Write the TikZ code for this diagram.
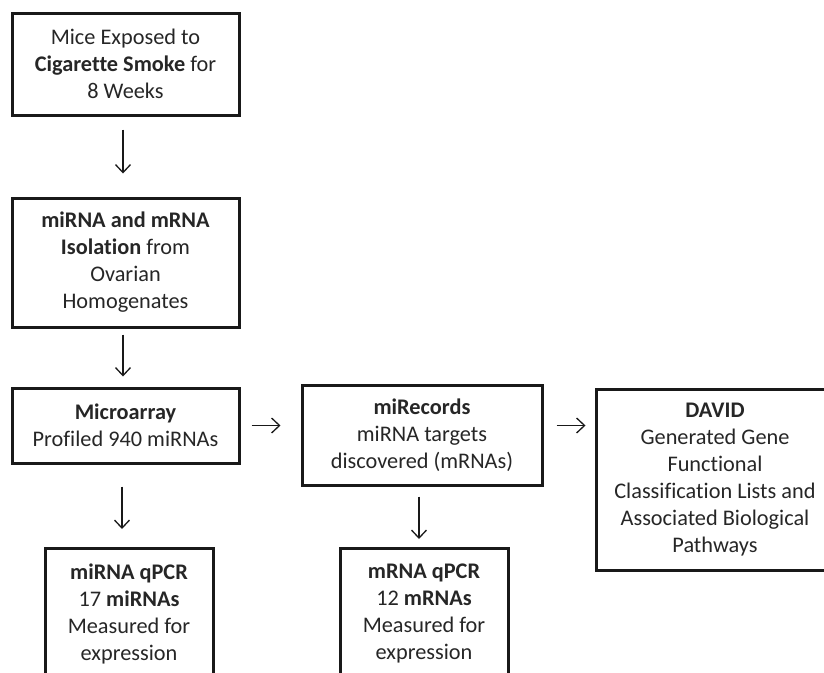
\documentclass[tikz,border=0pt]{standalone}
\usepackage{fontspec}
\setmainfont{Carlito}[Ligatures=NoCommon]
\usetikzlibrary{arrows.meta}
\begin{document}
\begin{tikzpicture}[x=1pt,y=-1pt,
  box/.style={draw=black!90, line width=3pt, align=center, inner sep=0pt, text=black!85,
    font=\fontsize{22.3}{27}\selectfont},
  arr/.style={draw=black!90, line width=1.3pt, -{Straight Barb[length=8pt,width=15pt,line width=1.3pt]}}]
\useasboundingbox (0,0) rectangle (824,672);
\clip (0,0) rectangle (824,672);
\node[box, minimum width=227pt, minimum height=102pt] (smoke) at (125.5,64)
  {Mice Exposed to\\\textbf{Cigarette Smoke} for\\8 Weeks};
\node[box, minimum width=227pt, minimum height=129pt] (iso) at (125.5,262.5)
  {\textbf{miRNA and mRNA}\\\textbf{Isolation} from\\Ovarian\\Homogenates};
\node[box, minimum width=227pt, minimum height=75pt] (micro) at (125.5,425.5)
  {\textbf{Microarray}\\Profiled 940 miRNAs};
\node[box, minimum width=168pt, minimum height=130pt] (mirq) at (129,613.5)
  {\textbf{miRNA qPCR}\\17 \textbf{miRNAs}\\Measured for\\expression};
\node[box, minimum width=240pt, minimum height=100pt] (rec) at (422,435)
  {\textbf{miRecords}\\miRNA targets\\discovered (mRNAs)};
\node[box, minimum width=168pt, minimum height=130pt] (mrq) at (424,613.5)
  {\textbf{mRNA qPCR}\\12 \textbf{mRNAs}\\Measured for\\expression};
\node[box, minimum width=238pt, minimum height=181pt] (david) at (715,479.5)
  {\textbf{DAVID}\\Generated Gene\\Functional\\Classification Lists and\\Associated Biological\\Pathways};
% connectors
\draw[arr] ([xshift=-2.5pt,yshift=-13pt]smoke.south) -- ([xshift=-2.5pt,yshift=23pt]iso.north);
\draw[arr] ([xshift=-2.5pt,yshift=-6pt]iso.south) -- ([xshift=-2.5pt,yshift=10pt]micro.north);
\draw[arr] ([xshift=-3.5pt,yshift=-22pt]micro.south) -- ([xshift=-3.5pt,yshift=18pt]micro.south |- mirq.north);
\draw[arr] ([xshift=11pt]micro.east) -- ([xshift=-20pt]micro.east -| rec.west);
\draw[arr] ([xshift=13pt]rec.east |- micro.east) -- ([xshift=-9pt]micro.east -| david.west);
\draw[arr] ([xshift=-3pt,yshift=-10pt]rec.south) -- ([xshift=-3pt,yshift=8pt]rec.south |- mrq.north);
\end{tikzpicture}
\end{document}
